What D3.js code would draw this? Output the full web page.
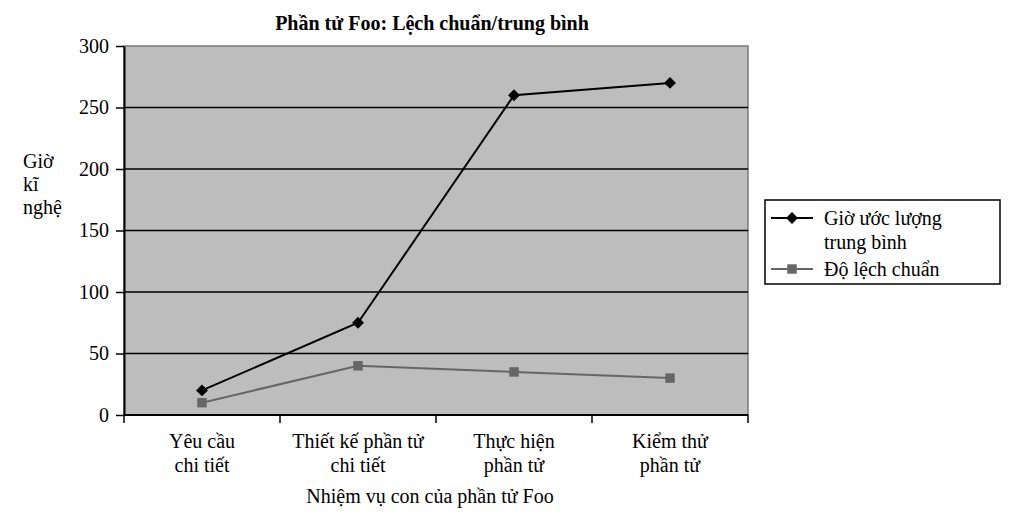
<!DOCTYPE html>
<html>
<head>
<meta charset="utf-8">
<script src="https://cdn.jsdelivr.net/npm/d3@7"></script>
<style>
  body { margin: 0; background: #fff; }
  text { font-family: "Liberation Serif", "DejaVu Serif", serif; fill: #000; }
</style>
</head>
<body>
<script>
// chart data
let categories = ["Yêu cầu\nchi tiết", "Thiết kế phần tử\nchi tiết", "Thực hiện\nphần tử", "Kiểm thử\nphần tử"];
let meanHours = [20, 75, 260, 270];
let stdDev = [10, 40, 35, 30];
let yTicks = [0, 50, 100, 150, 200, 250, 300];
let seriesNames = ["Giờ ước lượng\ntrung bình", "Độ lệch chuẩn"];

let margin = { top: 46, right: 276, bottom: 106, left: 124 };
let width = 1024, height = 521;
let plotW = width - margin.left - margin.right;
let plotH = height - margin.top - margin.bottom;
let fs = "20px";

const svg = d3.select("body").append("svg")
  .attr("width", width)
  .attr("height", height);

let xScale = d3.scaleBand().domain(categories).range([0, plotW]);
let yScale = d3.scaleLinear().domain([0, 300]).range([plotH, 0]);

let plot = svg.append("g")
  .attr("transform", "translate(" + margin.left + "," + margin.top + ")");

// grey plot area
plot.append("rect")
  .attr("width", plotW)
  .attr("height", plotH)
  .attr("fill", "#bdbdbd")
  .attr("stroke", "#7a7a7a")
  .attr("stroke-width", 1.5);

// gridlines
plot.selectAll("line.grid")
  .data(yTicks.filter(d => d > 0 && d < 300))
  .enter().append("line")
  .attr("class", "grid")
  .attr("x1", 0).attr("x2", plotW)
  .attr("y1", d => yScale(d)).attr("y2", d => yScale(d))
  .attr("stroke", "#000")
  .attr("stroke-width", 1.5);

// y axis
let yAxis = d3.axisLeft(yScale).tickValues(yTicks).tickSize(8).tickPadding(7).tickSizeOuter(0);
let yg = plot.append("g").call(yAxis).attr("font-family", null);
yg.select(".domain").attr("stroke-width", 2);
yg.selectAll(".tick line").attr("stroke-width", 1.5);
yg.selectAll("text").style("font-size", fs);

// x axis: ticks at band edges
let xAxisG = plot.append("g").attr("transform", "translate(0," + plotH + ")");
xAxisG.append("line").attr("x1", 0).attr("x2", plotW).attr("stroke", "#000").attr("stroke-width", 2);
xAxisG.selectAll("line.edge")
  .data(categories.map(c => xScale(c)).concat([plotW]))
  .enter().append("line")
  .attr("class", "edge")
  .attr("x1", d => d).attr("x2", d => d)
  .attr("y1", 0).attr("y2", 8)
  .attr("stroke", "#000").attr("stroke-width", 1.5);

let catLabels = xAxisG.selectAll("text.cat")
  .data(categories)
  .enter().append("text")
  .attr("class", "cat")
  .attr("text-anchor", "middle")
  .attr("y", 33)
  .style("font-size", fs);
catLabels.each(function(d) {
  let t = d3.select(this);
  d.split("\n").forEach((line, i) => {
    t.append("tspan").attr("x", xScale(d) + xScale.bandwidth() / 2).attr("dy", i ? 24 : 0).text(line);
  });
});

// lines
let cx = (d, i) => xScale(categories[i]) + xScale.bandwidth() / 2;
let lineGen = d3.line().x(cx).y(d => yScale(d));

plot.append("path").datum(stdDev)
  .attr("d", lineGen).attr("fill", "none")
  .attr("stroke", "#666").attr("stroke-width", 2);
plot.append("path").datum(meanHours)
  .attr("d", lineGen).attr("fill", "none")
  .attr("stroke", "#000").attr("stroke-width", 2);

let square = d3.symbol().type(d3.symbolSquare).size(90);
let diamond = d3.symbol().type(d3.symbolDiamond2).size(90);

plot.selectAll("path.sq").data(stdDev).enter().append("path")
  .attr("class", "sq").attr("d", square).attr("fill", "#666")
  .attr("transform", (d, i) => "translate(" + cx(d, i) + "," + yScale(d) + ")");
plot.selectAll("path.dm").data(meanHours).enter().append("path")
  .attr("class", "dm").attr("d", diamond).attr("fill", "#000")
  .attr("transform", (d, i) => "translate(" + cx(d, i) + "," + yScale(d) + ")");

// title
svg.append("text")
  .attr("x", 432).attr("y", 30)
  .attr("text-anchor", "middle")
  .style("font-size", fs).style("font-weight", "bold")
  .text("Phần tử Foo: Lệch chuẩn/trung bình");

// y label
let yl = svg.append("text").attr("x", 23).attr("y", 168).style("font-size", fs);
["Giờ", "kĩ", "nghệ"].forEach((l, i) => yl.append("tspan").attr("x", 23).attr("dy", i ? 23 : 0).text(l));

// x label
svg.append("text")
  .attr("x", 430).attr("y", 503)
  .attr("text-anchor", "middle")
  .style("font-size", fs)
  .text("Nhiệm vụ con của phần tử Foo");

// legend
let legend = svg.append("g").attr("transform", "translate(765,200)");
legend.append("rect").attr("width", 235).attr("height", 84)
  .attr("fill", "#fff").attr("stroke", "#000").attr("stroke-width", 1.5);

legend.append("line").attr("x1", 6).attr("x2", 48).attr("y1", 18).attr("y2", 18).attr("stroke", "#000").attr("stroke-width", 2);
legend.append("path").attr("d", diamond).attr("fill", "#000").attr("transform", "translate(27,18)");
let lt = legend.append("text").attr("x", 59).attr("y", 25).style("font-size", fs);
seriesNames[0].split("\n").forEach((l, i) => lt.append("tspan").attr("x", 59).attr("dy", i ? 24 : 0).text(l));

legend.append("line").attr("x1", 6).attr("x2", 48).attr("y1", 69).attr("y2", 69).attr("stroke", "#666").attr("stroke-width", 2);
legend.append("path").attr("d", square).attr("fill", "#666").attr("transform", "translate(27,69)");
legend.append("text").attr("x", 59).attr("y", 76).style("font-size", fs).text(seriesNames[1]);
</script>
</body>
</html>
